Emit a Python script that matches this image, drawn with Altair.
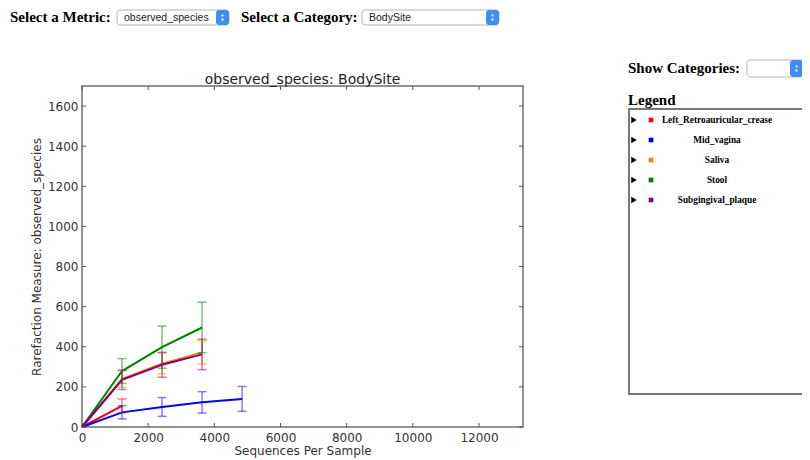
import altair as alt
import pandas as pd

# ---------------- data ----------------
categories = ["Left_Retroauricular_crease", "Mid_vagina", "Saliva", "Stool", "Subgingival_plaque"]
colors = ["#ff0000", "#0000ff", "#ff7f00", "#008000", "#800080"]
depths = [0, 1210, 2420, 3630, 4840]

left_mean = [0, 105]
left_err = [0, 35]
mid_mean = [0, 73, 100, 123, 140]
mid_err = [0, 33, 47, 53, 62]
saliva_mean = [0, 240, 316, 372]
saliva_err = [0, 42, 52, 58]
stool_mean = [0, 279, 398, 496]
stool_err = [0, 62, 105, 126]
subg_mean = [0, 235, 310, 362]
subg_err = [0, 48, 62, 76]

xticks = [0, 2000, 4000, 6000, 8000, 10000, 12000]
yticks = [0, 200, 400, 600, 800, 1000, 1200, 1400, 1600]

metric = "observed_species"
category = "BodySite"

rows = []
for cat, m, e in zip(categories,
                     [left_mean, mid_mean, saliva_mean, stool_mean, subg_mean],
                     [left_err, mid_err, saliva_err, stool_err, subg_err]):
    for d, mm, ee in zip(depths, m, e):
        rows.append({"category": cat, "depth": d, "mean": mm, "err": ee})
df = pd.DataFrame(rows)

XT = "Sequences Per Sample"
YT = "Rarefaction Measure: " + metric
W, H = 441, 341

xscale = alt.Scale(domain=[0, 13330], nice=False, zero=False)
yscale = alt.Scale(domain=[0, 1700], nice=False)
xaxis = alt.Axis(values=xticks, format="d", titlePadding=2)
yaxis = alt.Axis(values=yticks, format="d")
color = alt.Color("category:N", scale=alt.Scale(domain=categories, range=colors), legend=None)


def X(f):
    return alt.X(f, scale=xscale, axis=xaxis, title=XT)


def Y(f):
    return alt.Y(f, scale=yscale, axis=yaxis, title=YT)


base = alt.Chart(df)
lines = base.mark_line(strokeWidth=2).encode(x=X("depth:Q"), y=Y("mean:Q"), color=color)
errs = base.transform_filter("datum.depth > 0").transform_calculate(
    lo="datum.mean - datum.err", hi="datum.mean + datum.err")
bars = errs.mark_rule(opacity=0.5, strokeWidth=1.5).encode(
    x=X("depth:Q"), y=Y("lo:Q"), y2="hi:Q", color=color)
cap_lo = errs.mark_tick(orient="horizontal", size=9, thickness=1.5, opacity=0.5).encode(
    x=X("depth:Q"), y=Y("lo:Q"), color=color)
cap_hi = errs.mark_tick(orient="horizontal", size=9, thickness=1.5, opacity=0.5).encode(
    x=X("depth:Q"), y=Y("hi:Q"), color=color)

# inward ticks (matplotlib style)
tick_col = "#555"
xt = alt.Chart(pd.DataFrame({"t": xticks}))
yt = alt.Chart(pd.DataFrame({"t": yticks}))
tk_b = xt.mark_rule(color=tick_col, strokeWidth=1).encode(x=X("t:Q"), y=alt.value(H), y2=alt.value(H - 4))
tk_t = xt.mark_rule(color=tick_col, strokeWidth=1).encode(x=X("t:Q"), y=alt.value(0), y2=alt.value(4))
tk_l = yt.mark_rule(color=tick_col, strokeWidth=1).encode(y=Y("t:Q"), x=alt.value(0), x2=alt.value(4))
tk_r = yt.mark_rule(color=tick_col, strokeWidth=1).encode(y=Y("t:Q"), x=alt.value(W), x2=alt.value(W - 4))

# ---------------- page decorations (HTML-like controls) ----------------
one = alt.Chart(pd.DataFrame({"a": [0]}))
OX, OY = 82, 86  # plot origin in page pixels


def label(txt, px, py, size=15, font="Liberation Serif", weight="bold", align="left", col="#000"):
    return one.mark_text(text=txt, font=font, fontSize=size, fontWeight=weight, align=align,
                         baseline="alphabetic", color=col).encode(
        x=alt.value(px - OX), y=alt.value(py - OY))


def dropdown(x1, x2, y1, y2, txt=None):
    out = [
        one.mark_rect(fill="white", stroke="#b5b5b5", strokeWidth=1, cornerRadius=3).encode(
            x=alt.value(x1 - OX), x2=alt.value(x2 - OX), y=alt.value(y1 - OY), y2=alt.value(y2 - OY)),
        one.mark_rect(fill="#3f8ef5", cornerRadius=3).encode(
            x=alt.value(x2 - 13 - OX), x2=alt.value(x2 - OX), y=alt.value(y1 - OY), y2=alt.value(y2 - OY)),
        one.mark_point(shape="triangle-up", filled=True, color="white", size=9, opacity=1).encode(
            x=alt.value(x2 - 6.5 - OX), y=alt.value((y1 + y2) / 2 - 2.5 - OY)),
        one.mark_point(shape="triangle-down", filled=True, color="white", size=9, opacity=1).encode(
            x=alt.value(x2 - 6.5 - OX), y=alt.value((y1 + y2) / 2 + 2.5 - OY)),
    ]
    if txt:
        out.append(label(txt, x1 + 7, (y1 + y2) / 2 + 3.5, size=10.5, font="Liberation Sans",
                         weight="normal", col="#222"))
    return out


deco = []
# plot title (matplotlib-style, centred over the axes)
deco.append(label(metric + ": " + category, OX + W / 2, 83.5, size=14, font="DejaVu Sans",
                  weight="normal", align="center", col="#222"))
deco.append(label("Select a Metric:", 10, 22))
deco += dropdown(117, 229, 10, 25, metric)
deco.append(label("Select a Category:", 241, 22))
deco += dropdown(362, 499, 10, 25, category)
deco.append(label("Show Categories:", 628, 73))
deco += dropdown(747, 803, 60, 77)
deco.append(label("Legend", 628, 105))
deco.append(one.mark_rect(fillOpacity=0, stroke="#777", strokeWidth=2).encode(
    x=alt.value(629 - OX), x2=alt.value(830 - OX), y=alt.value(109 - OY), y2=alt.value(394 - OY)))
for i, (cat, c) in enumerate(zip(categories, colors)):
    ry = 120 + 20 * i
    deco.append(one.mark_point(shape="triangle-right", filled=True, color="black", size=40, opacity=1).encode(
        x=alt.value(634 - OX), y=alt.value(ry - OY)))
    deco.append(one.mark_square(color=c, size=22, opacity=1).encode(
        x=alt.value(651 - OX), y=alt.value(ry - OY)))
    deco.append(label(cat, 717, ry + 3, size=9.3, align="center"))

chart = alt.layer(
    lines, bars, cap_lo, cap_hi, tk_b, tk_t, tk_l, tk_r, *deco
).properties(
    width=W, height=H,
    autosize=alt.AutoSizeParams(type="none"),
    padding={"left": 74, "top": 78, "right": 279, "bottom": 31},
).configure_view(
    stroke="#6f6f6f", strokeWidth=1.5
).configure_axis(
    grid=False, ticks=False, domain=False, labelFlush=False, labelOverlap=False,
    labelFont="DejaVu Sans", labelFontSize=12, labelColor="#333", labelPadding=5,
    titleFont="DejaVu Sans", titleFontSize=12, titleFontWeight="normal", titleColor="#333",
    titlePadding=4,
).configure_axisY(labelPadding=4)

chart.save("out.html", embed_options={"renderer": "svg", "actions": False})
